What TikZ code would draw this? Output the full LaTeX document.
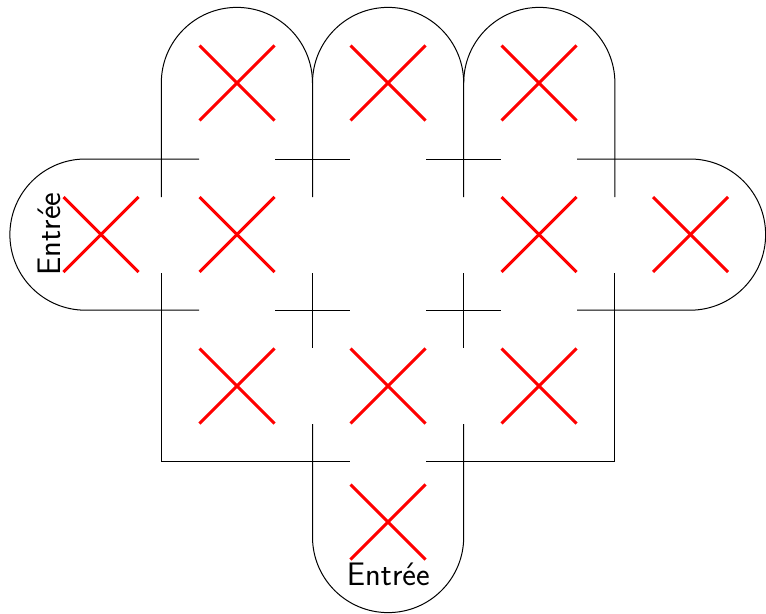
\documentclass[tikz,border=0pt]{standalone}
\tikzset{
  px/.style={x=0.75pt,y=-0.75pt},
  lobe/.style={radius=56.7pt},
  wall/.style={draw=black,line width=0.75pt,lobe},
  crossmark/.style={draw=red,line width=2.2pt},
  entree/.style={font=\sffamily\fontsize{24.4}{24.4}\selectfont,inner sep=0pt,anchor=base}
}
\begin{document}
\begin{tikzpicture}[px]
\useasboundingbox (0,0) rectangle (766,613);
% top lobes
\draw[wall] (161.3,197) -- (161.3,83) arc[start angle=180,end angle=0] -- (312.5,197);
\draw[wall] (312.5,83) arc[start angle=180,end angle=0] -- (463.7,197);
\draw[wall] (463.7,83) arc[start angle=180,end angle=0] -- (614.9,197);
% left lobe
\draw[wall] (199,159) -- (85.5,159) arc[start angle=90,end angle=270] -- (199,310.2);
% right lobe
\draw[wall] (577,159) -- (690,159) arc[start angle=90,end angle=-90] -- (577,310.2);
% horizontal stubs
\foreach \y in {159,310.2}{
  \draw[wall] (275,\y) -- (350,\y);
  \draw[wall] (426,\y) -- (501,\y);
}
% vertical stubs
\draw[wall] (312.5,273) -- (312.5,348);
\draw[wall] (463.7,273) -- (463.7,348);
% lower walls
\draw[wall] (161.3,273) -- (161.3,461.5) -- (350,461.5);
\draw[wall] (614.9,273) -- (614.9,461.5) -- (426,461.5);
% bottom lobe
\draw[wall] (312.5,424) -- (312.5,537) arc[start angle=180,end angle=360] -- (463.7,424);
% crosses
\foreach \cx/\cy in {237/83,388/83,539/83,
                     101/234.5,237/234.5,539/234.5,690.5/234.5,
                     237/386,388/386,539/386,
                     388/522}{
  \draw[crossmark] (\cx-37.5,\cy-37.5) -- (\cx+37.5,\cy+37.5);
  \draw[crossmark] (\cx-37.5,\cy+37.5) -- (\cx+37.5,\cy-37.5);
}
\node[entree,rotate=90] (entreeleft) at (60,234) {Entrée};
\node[entree] (entreebottom) at (388.3,585) {Entrée};
\end{tikzpicture}
\end{document}
